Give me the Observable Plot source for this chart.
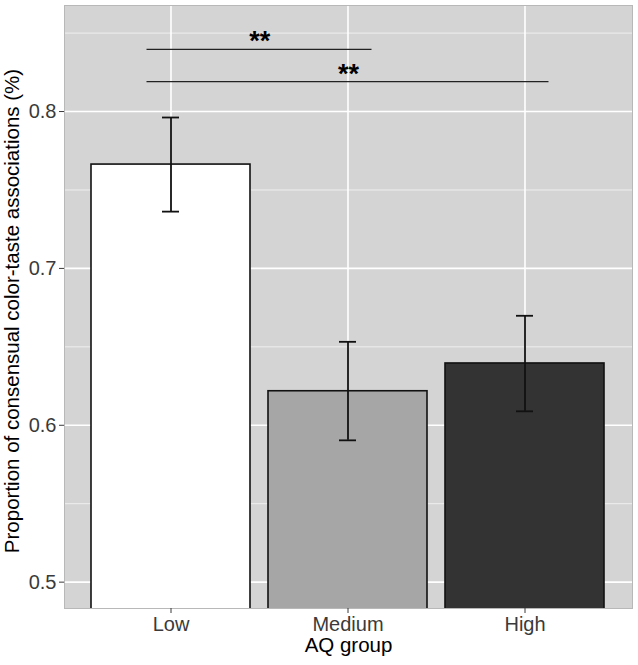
<!DOCTYPE html>
<html>
<head>
<meta charset="utf-8">
<script src="https://cdn.jsdelivr.net/npm/d3@7"></script>
<script src="https://cdn.jsdelivr.net/npm/@observablehq/plot@0.6"></script>
<style>
  html, body { margin: 0; padding: 0; background: #ffffff; }
  #chart svg { display: block; }
</style>
</head>
<body>
<div id="chart"></div>
<script>
// ---- data ----
const groups = ["Low", "Medium", "High"];
const means = [0.7662, 0.6217, 0.6394];
const lower = [0.7362, 0.5904, 0.6089];
const upper = [0.7962, 0.6532, 0.6698];
const fills = ["#ffffff", "#a6a6a6", "#333333"];
const yTicks = [0.5, 0.6, 0.7, 0.8];
const yMinor = [0.55, 0.65, 0.75, 0.85];
const sigFrom = ["Low", "Low"];
const sigTo = ["Medium", "High"];
const sigY = [0.8396, 0.8191];
const sigLabel = ["**", "**"];
const xTitle = "AQ group";
const yTitle = "Proportion of consensual color-taste associations (%)";

const data = groups.map((g, i) => ({group: g, mean: means[i], lower: lower[i], upper: upper[i]}));
const sig = sigFrom.map((f, i) => ({from: f, to: sigTo[i], y: sigY[i], label: sigLabel[i]}));

const W = 638, H = 665, ML = 64, MR = 6, MT = 5, MB = 57;
const step = (W - ML - MR) / 3.2;

const starMarks = sig.map(s => Plot.text([s], {
  x: "from", y: "y", text: "label",
  dx: (groups.indexOf(s.to) - groups.indexOf(s.from)) * step / 2,
  dy: 1,
  lineAnchor: "bottom", fontSize: 27, fontWeight: "bold", fill: "#000"
}));

const chart = Plot.plot({
  width: W, height: H,
  marginLeft: ML, marginRight: MR, marginTop: MT, marginBottom: MB,
  style: {fontFamily: "'Liberation Sans', Arial, Helvetica, sans-serif", background: "#ffffff"},
  x: {domain: groups, paddingInner: 0.1, paddingOuter: 0.15, align: 0.5, axis: null},
  y: {domain: [0.4832, 0.8676], axis: null},
  color: {domain: groups, range: fills},
  marks: [
    Plot.frame({fill: "#d4d4d4", stroke: "none"}),
    Plot.gridY(yMinor, {stroke: "#ffffff", strokeOpacity: 0.8, strokeWidth: 0.8}),
    Plot.gridY(yTicks, {stroke: "#ffffff", strokeOpacity: 1, strokeWidth: 1.6}),
    Plot.gridX(groups, {stroke: "#ffffff", strokeOpacity: 1, strokeWidth: 1.6}),
    Plot.barY(data, {x: "group", y1: 0, y2: "mean", fill: "group", stroke: "#111", strokeWidth: 1.6, clip: true}),
    Plot.ruleX(data, {x: "group", y1: "lower", y2: "upper", stroke: "#111", strokeWidth: 1.8}),
    Plot.tickY(data, {x: "group", y: "upper", inset: 71, stroke: "#111", strokeWidth: 1.8}),
    Plot.tickY(data, {x: "group", y: "lower", inset: 71, stroke: "#111", strokeWidth: 1.8}),
    Plot.ruleY(sig, {x1: "from", x2: "to", y: "y", insetLeft: 55.5, insetRight: 55.5, stroke: "#222", strokeWidth: 1.3}),
    ...starMarks,
    Plot.frame({fill: "none", stroke: "#b8b8b8", strokeWidth: 1}),
    Plot.axisY(yTicks, {tickFormat: ".1f", tickSize: 5, tickPadding: 3, fontSize: 20, color: "#3a3a3a", label: null}),
    Plot.axisX({tickSize: 5, tickPadding: 3, fontSize: 20, color: "#3a3a3a", label: null}),
    Plot.text([xTitle], {frameAnchor: "bottom", dy: 43, fontSize: 20.5, fill: "#000"}),
    Plot.text([yTitle], {frameAnchor: "left", textAnchor: "middle", rotate: -90, dx: -52.5, dy: 4, fontSize: 20.5, fill: "#000"})
  ]
});
document.getElementById("chart").appendChild(chart);
</script>
</body>
</html>
